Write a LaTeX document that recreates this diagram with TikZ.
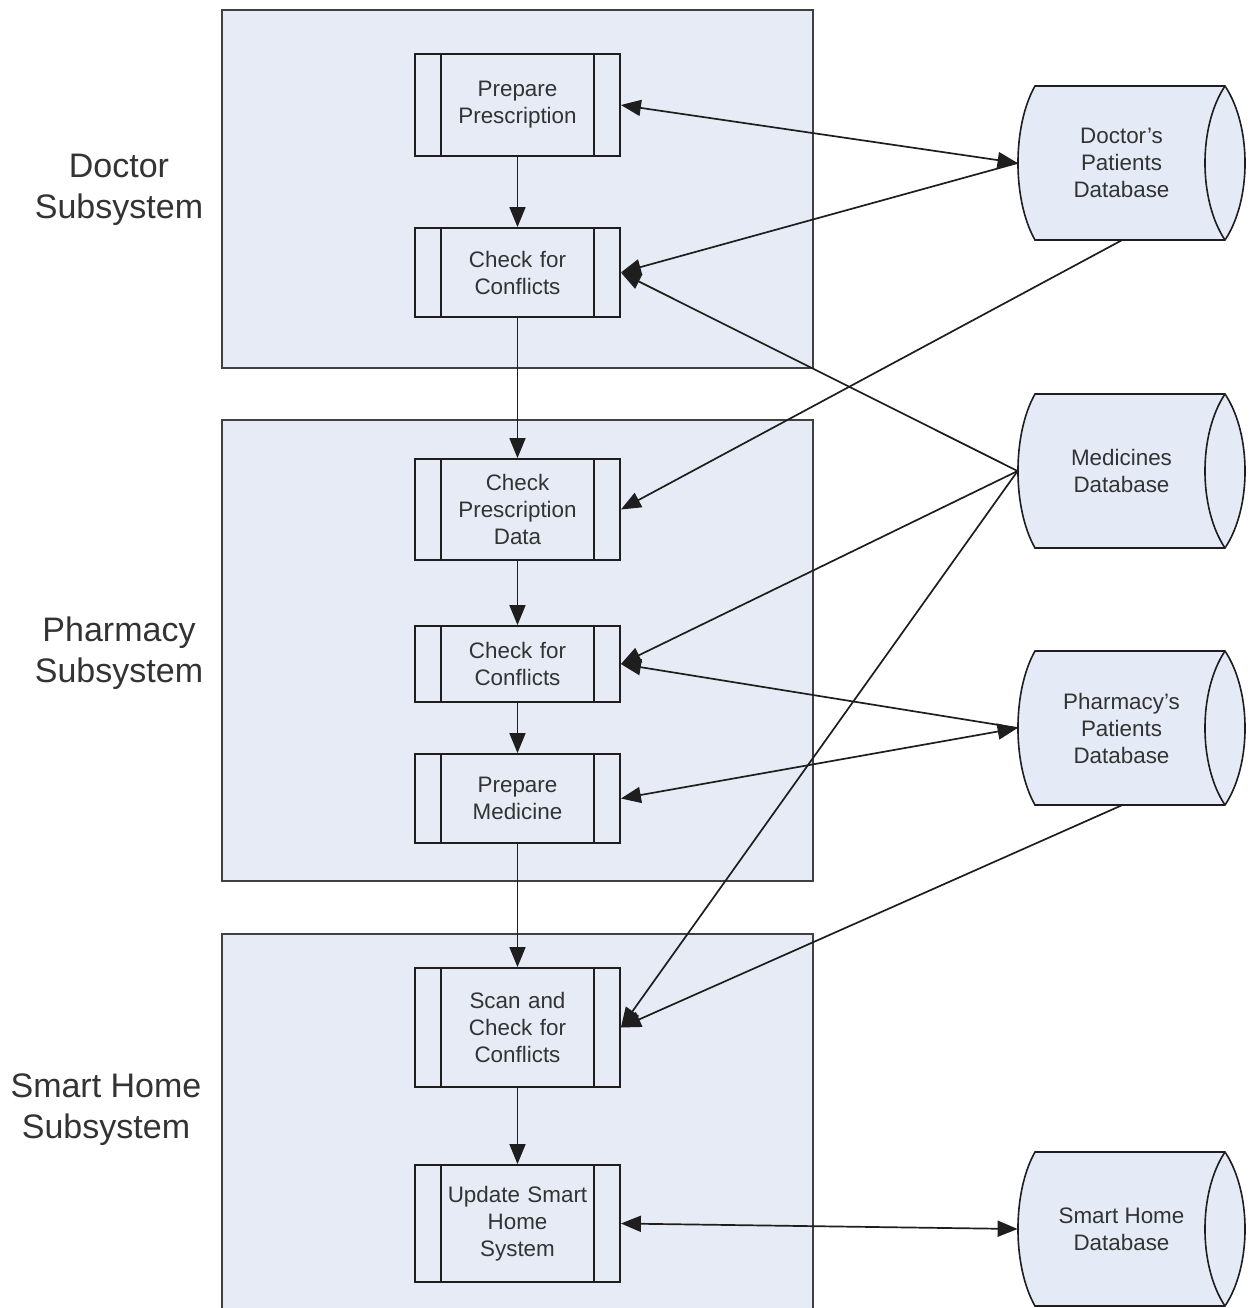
\documentclass[tikz,border=0pt]{standalone}
\usepackage{fontspec}
\setmainfont{Liberation Sans}
\usetikzlibrary{arrows.meta}
\definecolor{subfill}{HTML}{E6EBF5}
\definecolor{boxfill}{HTML}{E6EBF5}
\definecolor{dbfillc}{HTML}{E4EAF6}
\definecolor{linec}{HTML}{1E1E1E}
\definecolor{textc}{HTML}{333333}
\newcommand{\proctext}{\fontsize{11.2}{13.5}\selectfont}
\newcommand{\systext}{\fontsize{17}{20.5}\selectfont}
\newcommand{\dbshape}[1]{%
  \filldraw[dbline] (1035,#1) -- (1225,#1) .. controls (1251.7,#1+40) and (1251.7,#1+114) .. (1225,#1+154) -- (1035,#1+154) .. controls (1012.3,#1+114) and (1012.3,#1+40) .. (1035,#1) -- cycle;
  \draw[dbline] (1225,#1) .. controls (1198.3,#1+40) and (1198.3,#1+114) .. (1225,#1+154);
}
\begin{document}
\begin{tikzpicture}[x=0.5pt,y=-0.5pt,
  subbox/.style={draw=linec!85, line width=1pt, fill=subfill, inner sep=0pt},
  syslabel/.style={font=\systext, text=textc, align=center},
  procbox/.style={draw=linec, line width=0.9pt, fill=boxfill, minimum width=102.5pt,
    text width=76pt, align=center, inner sep=0pt, font=\proctext, text=textc,
    path picture={
      \draw[linec, line width=0.9pt] ([xshift=13pt]path picture bounding box.north west) -- ([xshift=13pt]path picture bounding box.south west);
      \draw[linec, line width=0.9pt] ([xshift=-13pt]path picture bounding box.north east) -- ([xshift=-13pt]path picture bounding box.south east);
    }},
  dbline/.style={draw=linec, line width=0.8pt, fill=dbfillc},
  dbnode/.style={minimum width=103.5pt, minimum height=77pt, inner sep=0pt, align=center, font=\proctext, text=textc},
  conn/.style={draw=linec, line width=0.85pt},
  flow/.style={conn, -{Triangle[length=10pt,width=8pt]}},
  biflow/.style={conn, {Triangle[length=10pt,width=8pt]}-{Triangle[length=10pt,width=8pt]}}
]
\useasboundingbox (0,0) rectangle (1250,1308);
\fill[white] (0,0) rectangle (1250,1308);

% subsystem areas
\node[subbox, minimum width=295.5pt, minimum height=179pt] (docsys) at (517.5,189) {};
\node[subbox, minimum width=295.5pt, minimum height=230.5pt] (phsys) at (517.5,650.5) {};
\node[subbox, minimum width=295.5pt, minimum height=195pt] (shsys) at (517.5,1129) {};

\node[syslabel] (doclab) at (119,190) {Doctor\\Subsystem};
\node[syslabel] (phlab) at (119,653) {Pharmacy\\Subsystem};
\node[syslabel] (shlab) at (106,1110) {Smart Home\\Subsystem};

% databases
\dbshape{86}
\node[dbnode] (dbd) at (1121.5,163) {Doctor's\\Patients\\Database};
\dbshape{394}
\node[dbnode] (dbm) at (1121.5,471) {Medicines\\Database};
\dbshape{651}
\node[dbnode] (dbp) at (1121.5,728) {Pharmacy's\\Patients\\Database};
\dbshape{1152}
\node[dbnode] (dbs) at (1121.5,1229) {Smart Home\\Database};

% processes
\node[procbox, minimum height=51pt] (pp) at (517.5,105) {Prepare\\Prescription};
\node[procbox, minimum height=44.5pt] (cfc1) at (517.5,272.5) {Check for\\Conflicts};
\node[procbox, minimum height=50.5pt] (cpd) at (517.5,509.5) {Check\\Prescription\\Data};
\node[procbox, minimum height=38pt] (cfc2) at (517.5,664) {Check for\\Conflicts};
\node[procbox, minimum height=44.5pt] (pm) at (517.5,798.5) {Prepare\\Medicine};
\node[procbox, minimum height=59.5pt] (scan) at (517.5,1027.5) {Scan and\\Check for\\Conflicts};
\node[procbox, minimum height=58.5pt] (upd) at (517.5,1223.5) {Update Smart\\Home\\System};

% vertical flow
\draw[flow] (pp.south) -- (cfc1.north);
\draw[flow] (cfc1.south) -- (cpd.north);
\draw[flow] (cpd.south) -- (cfc2.north);
\draw[flow] (cfc2.south) -- (pm.north);
\draw[flow] (pm.south) -- (scan.north);
\draw[flow] (scan.south) -- (upd.north);

% database connectors
\draw[biflow] (pp.east) -- (dbd.west);
\draw[flow] (dbd.west) -- (cfc1.east);
\draw[flow] (dbd.south) -- (cpd.east);
\draw[flow] (dbm.west) -- (cfc1.east);
\draw[flow] (dbm.west) -- (cfc2.east);
\draw[flow] (dbm.west) -- (scan.east);
\draw[flow] (dbp.west) -- (cfc2.east);
\draw[biflow] (pm.east) -- (dbp.west);
\draw[flow] (dbp.south) -- (scan.east);
\draw[biflow] (upd.east) -- (dbs.west);
\end{tikzpicture}
\end{document}
